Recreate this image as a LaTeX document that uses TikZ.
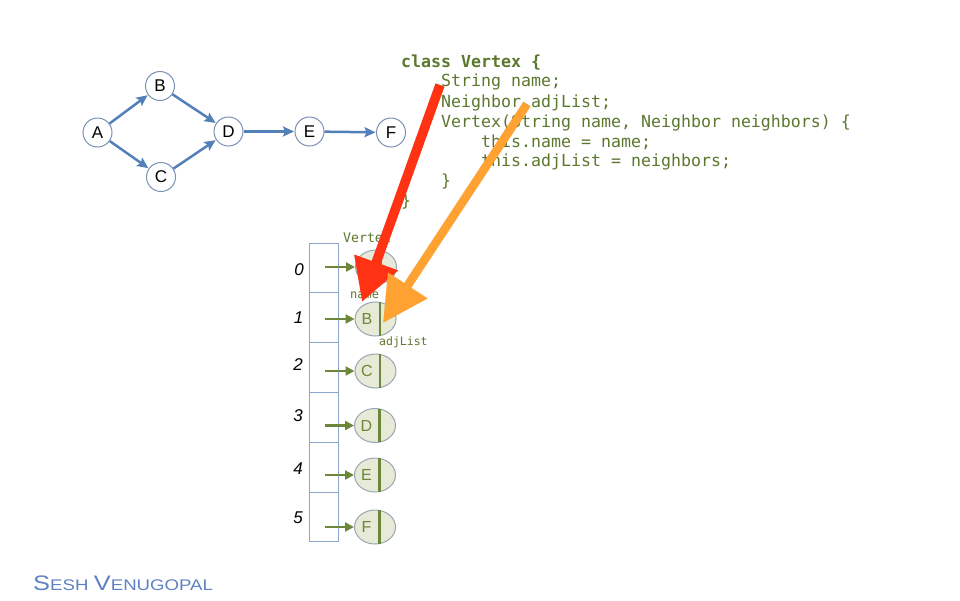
\documentclass[tikz,border=0pt]{standalone}
\usepackage{graphicx}
\usepackage{fontspec}
\setmainfont{Liberation Sans}
\newfontfamily\codefont{DejaVu Sans Mono}
\usetikzlibrary{arrows.meta,shapes.geometric}

\definecolor{codegreen}{RGB}{92,120,46}
\definecolor{edgeblue}{RGB}{84,128,186}
\definecolor{nodeborder}{RGB}{120,145,180}
\definecolor{boxblue}{RGB}{140,165,205}
\definecolor{ellfill}{RGB}{230,234,214}
\definecolor{ellborder}{RGB}{150,165,180}
\definecolor{olivegreen}{RGB}{108,135,58}
\definecolor{arrowred}{RGB}{255,50,20}
\definecolor{arroworange}{RGB}{255,162,50}
\definecolor{sigblue}{RGB}{95,130,195}

\tikzset{
  gnode/.style={circle, draw=nodeborder, line width=1pt, fill=white, minimum size=29pt, inner sep=0pt, font=\fontsize{17}{17}\selectfont},
  gedge/.style={draw=edgeblue, line width=2.5pt, -{Stealth[length=11pt,width=10pt,inset=2pt]}, shorten >=0.5pt},
  cell/.style={draw=boxblue, line width=1pt, fill=white, minimum width=29pt, minimum height=49.8pt, inner sep=0pt},
  idx/.style={font=\itshape\fontsize{17}{17}\selectfont, inner sep=0pt},
  vnode/.style={ellipse, draw=ellborder, line width=1pt, fill=ellfill, minimum width=41pt, minimum height=34pt, inner sep=0pt},
  vletter/.style={text=olivegreen, font=\fontsize{16}{16}\selectfont, inner sep=0pt},
  vbar/.style={draw=olivegreen, line width=2.4pt},
  ptr/.style={draw=olivegreen, line width=2.6pt, -{Triangle[length=9pt,width=9pt]}},
  codeline/.style={anchor=base west, inner sep=0pt, text=codegreen, font=\codefont\fontsize{16.6}{20}\selectfont},
  smallcode/.style={anchor=base west, inner sep=0pt, text=codegreen, font=\codefont\fontsize{12}{14}\selectfont},
  bigredarrow/.style={draw=arrowred, line width=9.5pt, -{Triangle[width=44pt,length=42pt]}},
  bigorangearrow/.style={draw=arroworange, line width=8.5pt, -{Triangle[width=45pt,length=45pt]}},
  arrowshadow/.style={draw=black, opacity=0.12},
}

\begin{document}
\begin{tikzpicture}[x=1pt,y=-1pt]
\useasboundingbox (0,0) rectangle (960,600);
\fill[white] (0,0) rectangle (960,600);

% ---------- top graph ----------
\node[gnode] (A) at (97.5,132.5) {A};
\node[gnode] (B) at (160,86) {B};
\node[gnode] (C) at (161,177) {C};
\node[gnode] (D) at (228.5,131.5) {D};
\node[gnode] (E) at (309.5,131.5) {E};
\node[gnode] (F) at (391,132.5) {F};
\draw[gedge] (A) -- (B);
\draw[gedge] (A) -- (C);
\draw[gedge] (B) -- (D);
\draw[gedge] (C) -- (D);
\draw[gedge] (D) -- (E);
\draw[gedge] (E) -- (F);

% ---------- array ----------
\foreach \i in {0,...,5} {
  \node[cell] (c\i) at (323.5,{268+49.8*\i}) {};
}
\node[idx] (i0) at (299,270) {0};
\node[idx] (i1) at (298.5,318) {1};
\node[idx] (i2) at (298,365) {2};
\node[idx] (i3) at (298,416) {3};
\node[idx] (i4) at (298,469) {4};
\node[idx] (i5) at (298,518) {5};

% ---------- vertex ellipses ----------
\node[vnode] (v0) at (376,267) {};
\node[vnode] (v1) at (375.5,319) {};
\node[vnode] (v2) at (375.5,371) {};
\node[vnode] (v3) at (375,425.5) {};
\node[vnode] (v4) at (375,475) {};
\node[vnode] (v5) at (375,527) {};
\foreach \i/\l in {0/A,1/B,2/C,3/D,4/E,5/F} {
  \draw[vbar] ([xshift=4.5pt,yshift=-0.8pt]v\i.north) -- ([xshift=4.5pt,yshift=0.8pt]v\i.south);
  \node[vletter] (l\i) at ([xshift=-8.5pt]v\i.center) {\l};
  \draw[ptr] ([xshift=1.5pt]v\i.west -| c\i.center) -- (v\i.west);
}

% ---------- small labels ----------
\node[smallcode, font=\codefont\fontsize{13.2}{14}\selectfont] (lvertex) at (343,242) {Vertex};
\node[smallcode] (lname) at (350,298) {name};
\node[smallcode, font=\codefont\fontsize{11.5}{14}\selectfont] (ladj) at (379,345) {adjList};

% ---------- code ----------
\node[codeline, font=\codefont\bfseries\fontsize{16.6}{20}\selectfont] (k1) at (401,67) {class Vertex \{};
\node[codeline] (k2) at (441,86.5) {String name;};
\node[codeline] (k3) at (441,107) {Neighbor adjList;};
\node[codeline] (k4) at (441,127) {Vertex(String name, Neighbor neighbors) \{};
\node[codeline] (k5) at (481,147) {this.name = name;};
\node[codeline] (k6) at (481,166) {this.adjList = neighbors;};
\node[codeline] (k7) at (441,186) {\}};
\node[codeline] (k8) at (401,206) {\}};

% ---------- big arrows ----------
\coordinate (rs) at (440,85);
\coordinate (rt) at (362,302);
\coordinate (os) at (527,104);
\coordinate (ot) at (383,323);
\begin{scope}[shift={(5,4)}]
  \draw[bigredarrow, arrowshadow] (rs) -- (rt);
  \draw[bigorangearrow, arrowshadow] (os) -- (ot);
\end{scope}
\draw[bigredarrow] (rs) -- (rt);
\draw[bigorangearrow] (os) -- (ot);

% ---------- signature ----------
\node[anchor=base west, inner sep=0pt, text=sigblue] (sig) at (33,590.5)
  {\scalebox{1.21}[1]{{\fontsize{21}{21}\selectfont S}{\fontsize{15.4}{15}\selectfont ESH}\hspace{4.5pt}{\fontsize{21}{21}\selectfont V}{\fontsize{15.4}{15}\selectfont ENUGOPAL}}};
\end{tikzpicture}
\end{document}
